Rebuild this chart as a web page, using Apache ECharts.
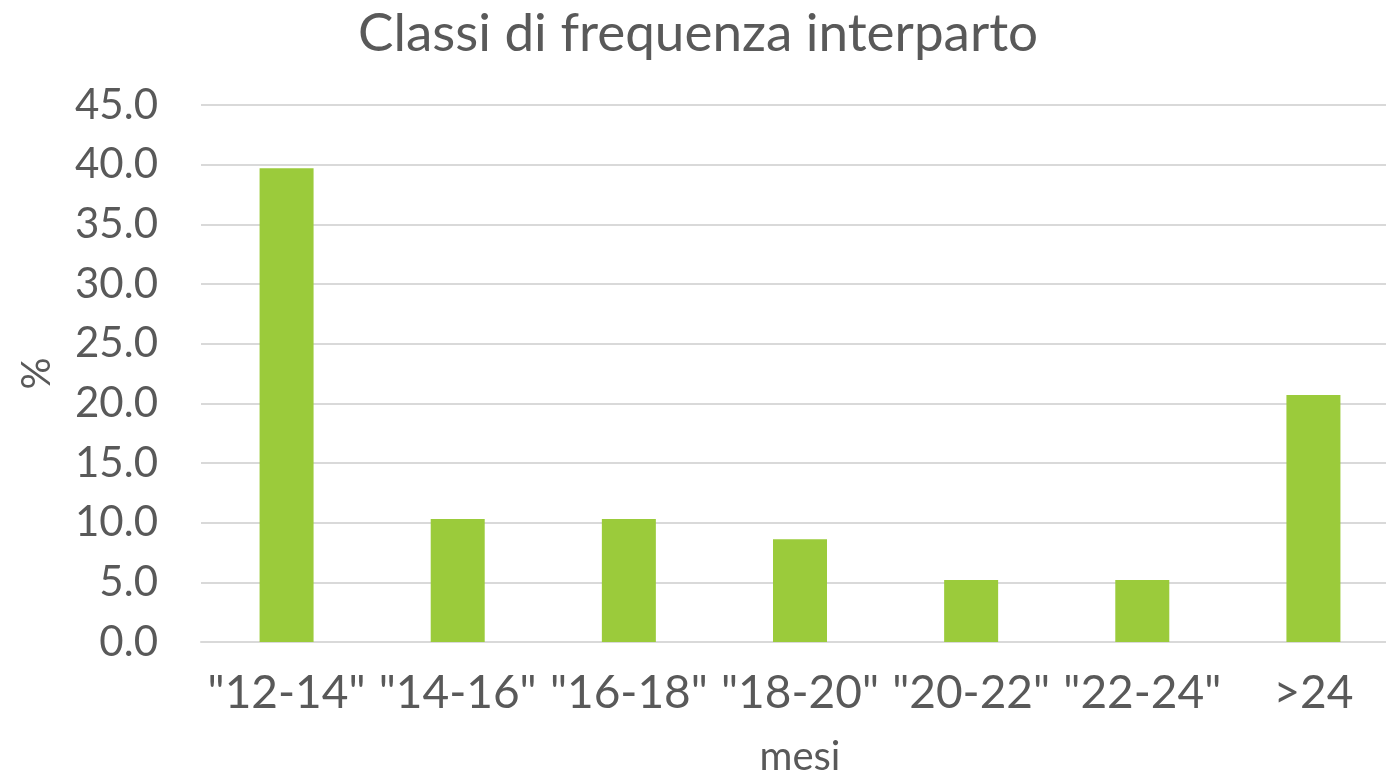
<!DOCTYPE html>
<html><head><meta charset="utf-8">
<script src="https://cdn.jsdelivr.net/npm/echarts@6/dist/echarts.min.js"></script>
<style>html,body{margin:0;padding:0;background:#fff}#c{width:1386px;height:773px}</style>
</head><body><div id="c"></div>
<script>
const categories = ['"12-14"', '"14-16"', '"16-18"', '"18-20"', '"20-22"', '"22-24"', '>24'];
const values = [39.7, 10.3, 10.3, 8.6, 5.2, 5.2, 20.7];
const titleText = 'Classi di frequenza interparto';
const xName = 'mesi';
const yName = '%';

const FONT = 'Lato, "Noto Sans", sans-serif';
const chart = echarts.init(document.getElementById('c'));
chart.setOption({
  animation: false,
  backgroundColor: '#ffffff',
  title: {
    text: titleText, left: 353, top: 2,
    textStyle: { fontFamily: FONT, fontSize: 53, fontWeight: 'normal', color: '#595959' }
  },
  grid: { left: 201, right: -13, top: 105, bottom: 131, containLabel: false, outerBoundsMode: 'none' },
  xAxis: {
    type: 'category', data: categories,
    name: xName, nameLocation: 'middle', nameGap: 95,
    nameTextStyle: { fontFamily: FONT, fontSize: 40, color: '#595959' },
    axisLine: { show: true, lineStyle: { color: '#d9d9d9', width: 2 } },
    axisTick: { show: false },
    axisLabel: { fontFamily: FONT, fontSize: 46, color: '#595959', margin: 28, interval: 0 }
  },
  yAxis: {
    type: 'value', min: 0, max: 45, interval: 5,
    name: yName, nameLocation: 'middle', nameGap: 144, nameRotate: 90,
    nameTextStyle: { fontFamily: FONT, fontSize: 40, color: '#595959' },
    axisLine: { show: false }, axisTick: { show: false },
    axisLabel: { fontFamily: FONT, fontSize: 42, color: '#595959', margin: 43, formatter: v => v.toFixed(1) },
    splitLine: { lineStyle: { color: '#d9d9d9', width: 2 } }
  },
  series: [{
    type: 'bar', data: values, barWidth: 54,
    itemStyle: { color: '#9bcb3b' }
  }]
});
</script></body></html>
